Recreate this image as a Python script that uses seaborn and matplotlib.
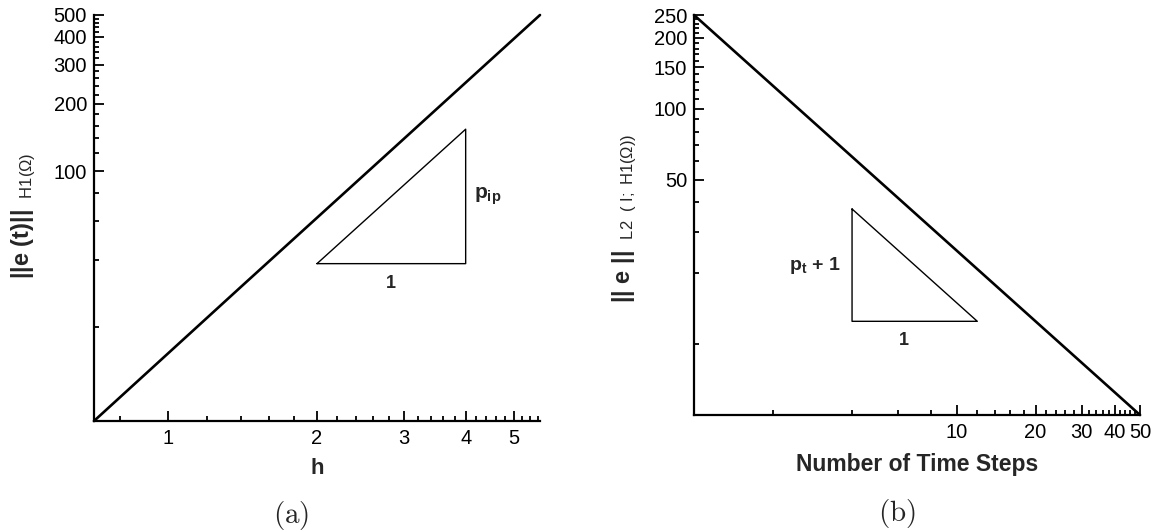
import numpy as np
import pandas as pd
import matplotlib
matplotlib.use("Agg")
import matplotlib.pyplot as plt
import seaborn as sns
from matplotlib.ticker import FixedLocator, FixedFormatter, NullFormatter

# ---- data -----------------------------------------------------------------
# (a) spatial convergence: H1 error against mesh size h
h_vals = [0.7071, 1.4142, 2.8284, 5.6569]
err_h1 = [7.6, 30.8, 124.0, 500.0]
# reference slope triangle for (a): p_ip = 2
tri_a_h = [2.0, 4.0, 4.0, 2.0]
tri_a_err = [38.5, 38.5, 154.0, 38.5]

# (b) temporal convergence: L2(I; H1) error against number of time steps
n_steps = [1, 2, 5, 10, 20, 50]
err_l2h1 = [250.0, 125.0, 50.0, 25.0, 12.5, 5.0]
# reference slope triangle for (b): p_t + 1 = 1
tri_b_n = [4.0, 4.0, 12.0, 4.0]
tri_b_err = [37.5, 12.5, 12.5, 37.5]

# tick labels
a_xmajor = [1, 2, 3, 4, 5]
a_ymajor = [100, 200, 300, 400, 500]
b_xmajor = [10, 20, 30, 40, 50]
b_ymajor = [50, 100, 150, 200, 250]

# ---- style ----------------------------------------------------------------
sns.set_theme(style="ticks")
plt.rcParams["font.family"] = ["Liberation Sans", "DejaVu Sans"]
plt.rcParams.update({
    "mathtext.fontset": "custom",
    "mathtext.rm": "Liberation Sans",
    "mathtext.bf": "Liberation Sans:bold",
    "mathtext.it": "Liberation Sans:italic",
    "mathtext.sf": "Liberation Sans",
    "axes.linewidth": 1.6,
    "axes.edgecolor": "black",
})

W, H = 1162, 531
fig = plt.figure(figsize=(W / 100, H / 100), dpi=100)
fig.patch.set_facecolor("white")


def px_axes(left, top, right, bottom):
    return fig.add_axes([left / W, 1 - bottom / H, (right - left) / W, (bottom - top) / H])


def style_axis(ax, xmajor, xminor, ymajor, yminor):
    ax.set_facecolor("white")
    sns.despine(ax=ax)
    ax.xaxis.set_major_locator(FixedLocator(xmajor))
    ax.xaxis.set_major_formatter(FixedFormatter([str(v) for v in xmajor]))
    ax.xaxis.set_minor_locator(FixedLocator(xminor))
    ax.xaxis.set_minor_formatter(NullFormatter())
    ax.yaxis.set_major_locator(FixedLocator(ymajor))
    ax.yaxis.set_major_formatter(FixedFormatter([str(v) for v in ymajor]))
    ax.yaxis.set_minor_locator(FixedLocator(yminor))
    ax.yaxis.set_minor_formatter(NullFormatter())
    ax.tick_params(which="both", direction="in", colors="black", width=1.3)
    ax.tick_params(which="major", length=7, labelsize=14.5)
    ax.tick_params(axis="x", which="major", pad=6)
    ax.tick_params(axis="y", which="major", pad=5)
    ax.tick_params(which="minor", length=3.5)
    ax.grid(False)


def minor_between(edges, step):
    vals = []
    for lo, hi in zip(edges[:-1], edges[1:]):
        vals.extend(np.arange(lo + step, hi - step / 2, step).round(6).tolist())
    return vals


# ---- panel (a) ------------------------------------------------------------
ax_a = px_axes(94, 15, 540, 421)
ax_a.set_xscale("log")
ax_a.set_yscale("log")
df_a = pd.DataFrame({"h": h_vals, "err": err_h1})
sns.lineplot(data=df_a, x="h", y="err", ax=ax_a, color="black", linewidth=1.9,
             estimator=None, sort=False, clip_on=False)
ax_a.plot(tri_a_h, tri_a_err, color="black", linewidth=1.0)
ax_a.set_xlim(h_vals[0], h_vals[-1])
ax_a.set_ylim(err_h1[0], err_h1[-1])
a_xminor = [0.8] + minor_between([1, 2, 3, 4, 5, 5.7], 0.2)
a_xminor = [v for v in a_xminor if v not in a_xmajor]
a_yminor = [20, 40, 60, 80] + minor_between([100, 200, 300, 400, 500], 20)
style_axis(ax_a, a_xmajor, a_xminor, a_ymajor, a_yminor)
ax_a.set_xlabel("h", fontsize=16, fontweight="bold", labelpad=7)
ax_a.set_ylabel("")

ax_a.annotate("1", xy=(np.sqrt(tri_a_h[0] * tri_a_h[1]), tri_a_err[0]),
              xytext=(0, -14), textcoords="offset points", ha="center", va="center",
              fontsize=13, fontweight="bold")
ax_a.annotate(r"$\mathbf{p}_{\mathbf{ip}}$",
              xy=(tri_a_h[2], np.sqrt(tri_a_err[1] * tri_a_err[2])),
              xytext=(16, 0), textcoords="offset points", ha="center", va="center",
              fontsize=15)

fig.text(24 / W, 1 - 216 / H, r"$\mathbf{||e\ (t)||}\;\;{}_{\mathrm{H1(\Omega)}}$",
         rotation=90, ha="center", va="center", fontsize=17)
fig.text(291 / W, 1 - 516 / H, r"$\mathrm{(a)}$", math_fontfamily="cm",
         ha="center", va="center", fontsize=21)

# ---- panel (b) ------------------------------------------------------------
ax_b = px_axes(694, 15, 1140, 415)
ax_b.set_xscale("log")
ax_b.set_yscale("log")
df_b = pd.DataFrame({"steps": n_steps, "err": err_l2h1})
sns.lineplot(data=df_b, x="steps", y="err", ax=ax_b, color="black", linewidth=1.9,
             estimator=None, sort=False, clip_on=False)
ax_b.plot(tri_b_n, tri_b_err, color="black", linewidth=1.0)
ax_b.set_xlim(n_steps[0], n_steps[-1])
ax_b.set_ylim(err_l2h1[-1], err_l2h1[0])
b_xminor = [2, 4, 6, 8] + minor_between([10, 20, 30, 40, 50], 2)
b_yminor = [10, 20, 30, 40] + minor_between([50, 100, 150, 200, 250], 10)
style_axis(ax_b, b_xmajor, b_xminor, b_ymajor, b_yminor)
ax_b.set_xlabel("Number of Time Steps", fontsize=16.5, fontweight="bold", labelpad=8)
ax_b.set_ylabel("")

ax_b.annotate("1", xy=(np.sqrt(tri_b_n[1] * tri_b_n[2]), tri_b_err[1]),
              xytext=(-8, -14), textcoords="offset points", ha="center", va="center",
              fontsize=13, fontweight="bold")
ax_b.annotate(r"$\mathbf{p}_{\mathbf{t}}\ \mathbf{+\ 1}$",
              xy=(tri_b_n[0], np.sqrt(tri_b_err[0] * tri_b_err[1])),
              xytext=(-27, 0), textcoords="offset points", ha="center", va="center",
              fontsize=14)

fig.text(625 / W, 1 - 218 / H,
         r"$\mathbf{||\ e\ ||}\;\;{}_{\mathrm{L2\ \ (\ I;\ H1(\Omega))}}$",
         rotation=90, ha="center", va="center", fontsize=17)
fig.text(897 / W, 1 - 513 / H, r"$\mathrm{(b)}$", math_fontfamily="cm",
         ha="center", va="center", fontsize=21)

fig.savefig("out.png", dpi=100, facecolor="white")
